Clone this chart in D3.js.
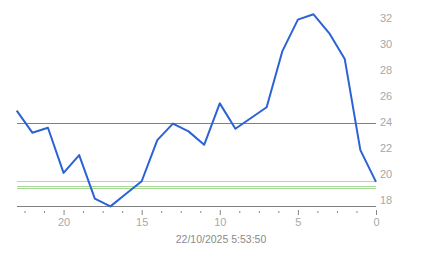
<!DOCTYPE html>
<html>
<head>
<meta charset="utf-8">
<script src="https://cdn.jsdelivr.net/npm/d3@7"></script>
<style>
html,body{margin:0;padding:0;background:#fff;}
svg{display:block;}
text{font-family:Arial,"Liberation Sans",sans-serif;}
</style>
</head>
<body>
<svg id="chart" width="443" height="258"></svg>
<script>
// x = steps ago (reversed axis)
const xSteps = [23,22,21,20,19,18,17,16,15,14,13,12,11,10,9,8,7,6,5,4,3,2,1,0];
const values = [24.97,23.28,23.66,20.19,21.56,18.22,17.62,18.59,19.55,22.71,23.98,23.38,22.35,25.53,23.58,24.41,25.23,29.52,31.96,32.37,30.93,28.93,21.94,19.5];
const xTickValues = [20,15,10,5,0];
const yTickValues = [18,20,22,24,26,28,30,32];
const refLines = [
  {v:24, color:"#808080"},
  {v:19.55, color:"#f0c860"},
  {v:19.15, color:"#a8d896"},
  {v:18.98, color:"#a8d896"}
];
const title = "22/10/2025 5:53:50";

const svg = d3.select("#chart");
const x = d3.scaleLinear().domain([23,0]).range([16.7,376]);
const y = d3.scaleLinear().domain(d3.extent(values)).range([206.4,14.3]);
const crisp = v => Math.round(v-0.5)+0.5;

// reference lines
svg.selectAll("line.ref").data(refLines).enter().append("line")
  .attr("class","ref")
  .attr("x1",x(23)).attr("x2",x(0))
  .attr("y1",d=>crisp(y(d.v))).attr("y2",d=>crisp(y(d.v)))
  .attr("stroke",d=>d.color).attr("stroke-width",1)
  .attr("shape-rendering","crispEdges");

// bottom axis line
const yb = crisp(y(y.domain()[0]));
svg.append("line")
  .attr("x1",x(23)).attr("x2",x(0))
  .attr("y1",yb).attr("y2",yb)
  .attr("stroke","#808080").attr("stroke-width",1)
  .attr("shape-rendering","crispEdges");

// data line
svg.append("path")
  .datum(xSteps.map((s,i)=>[s,values[i]]))
  .attr("fill","none").attr("stroke","#2b62d6").attr("stroke-width",2)
  .attr("stroke-linejoin","round")
  .attr("d",d3.line().x(d=>x(d[0])).y(d=>y(d[1])));

// x axis: minor ticks
const minor = d3.range(0,23.01,1.25).filter(v=>v%5!==0);
const gMinor = svg.append("g").attr("transform","translate(0,211)")
  .call(d3.axisBottom(x).tickValues(minor).tickSize(2).tickFormat(""));
gMinor.select(".domain").remove();
gMinor.selectAll("line").attr("stroke","#888");

// x axis: major ticks
const gMajor = svg.append("g").attr("transform","translate(0,210)")
  .call(d3.axisBottom(x).tickValues(xTickValues).tickSize(5).tickPadding(3).tickFormat(d3.format("d")));
gMajor.select(".domain").remove();
gMajor.selectAll("line").attr("stroke","#888");
gMajor.selectAll("text").attr("fill","#a8a8a8").attr("font-size","11px")
  .attr("font-family","Arial,'Liberation Sans',sans-serif");

// y axis on right
const gY = svg.append("g").attr("transform","translate(376,-1)")
  .call(d3.axisRight(y).tickValues(yTickValues).tickSize(0).tickPadding(4));
gY.select(".domain").remove();
gY.selectAll("text").attr("fill","#a8a8a8").attr("font-size","11px")
  .attr("font-family","Arial,'Liberation Sans',sans-serif");

// title under axis
svg.append("text")
  .attr("x",221).attr("y",243)
  .attr("text-anchor","middle")
  .attr("font-size","10.5px").attr("fill","#8a8a8a")
  .text(title);
</script>
</body>
</html>
